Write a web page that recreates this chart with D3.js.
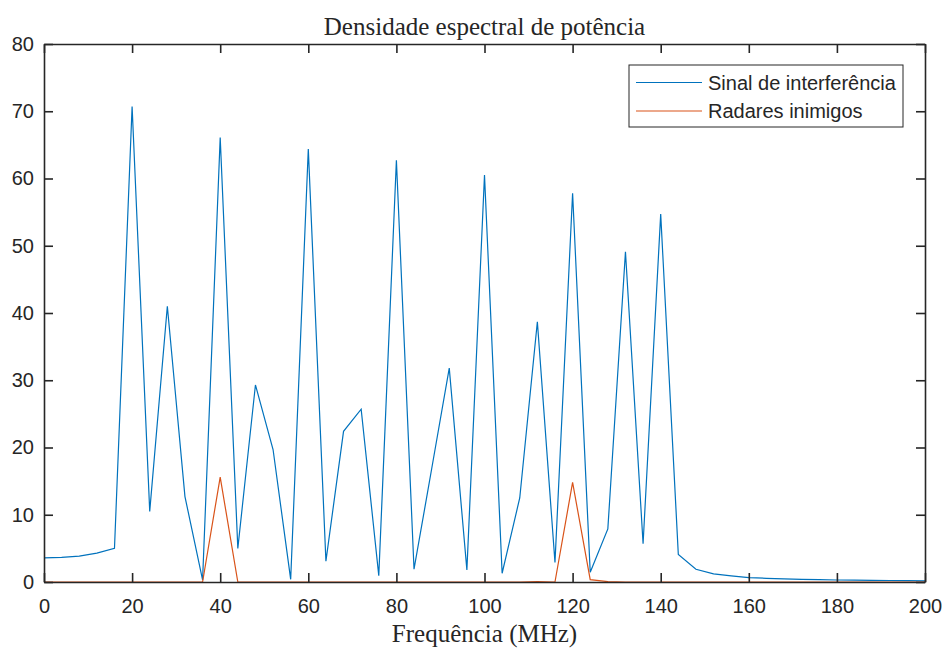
<!DOCTYPE html>
<html>
<head>
<meta charset="utf-8">
<script src="https://cdn.jsdelivr.net/npm/d3@7"></script>
<style>
  html, body { margin: 0; padding: 0; background: #fff; }
  svg text { fill: #262626; }
</style>
</head>
<body>
<svg id="chart" width="943" height="648"></svg>
<script>
/* ── Data ─────────────────────────────── */
const freqs = d3.range(0, 201, 4);   // MHz, 4 MHz bins

const interference = [
  3.6, 3.65, 3.85, 4.3, 5.0, 70.7, 10.5, 41.0, 12.7, 0.3,
  66.1, 5.0, 29.3, 19.7, 0.4, 64.4, 3.1, 22.4, 25.7, 0.95,
  62.7, 1.9, 16.8, 31.8, 1.8, 60.5, 1.3, 12.5, 38.7, 2.9,
  57.8, 1.45, 7.9, 49.1, 5.7, 54.7, 4.1, 1.9, 1.2, 0.9,
  0.65, 0.55, 0.45, 0.4, 0.35, 0.3, 0.27, 0.25, 0.22, 0.2, 0.18
];

const enemyRadars = [
  0, 0, 0, 0, 0, 0, 0, 0, 0, 0,
  15.6, 0, 0, 0, 0, 0, 0, 0, 0, 0,
  0, 0, 0, 0, 0, 0, 0, 0, 0.05, 0,
  14.8, 0.35, 0.05, 0, 0, 0, 0, 0, 0, 0,
  0, 0, 0, 0, 0, 0, 0, 0, 0, 0, 0
];

const seriesNames = ["Sinal de interferência", "Radares inimigos"];
const seriesColors = ["#0072BD", "#D95319"];
const xTicks = [0, 20, 40, 60, 80, 100, 120, 140, 160, 180, 200];
const yTicks = [0, 10, 20, 30, 40, 50, 60, 70, 80];

/* ── Layout ───────────────────────────── */
const svg = d3.select("#chart");
const margin = { left: 44, right: 18, top: 44, bottom: 66 };
const W = 943, H = 648;
const x = d3.scaleLinear().domain([0, 200]).range([margin.left, W - margin.right]);
const y = d3.scaleLinear().domain([0, 80]).range([H - margin.bottom, margin.top]);

const axisColor = "#262626";
const tickLen = 9;
const sans = "'Liberation Sans', Arial, Helvetica, sans-serif";
const serif = "'Liberation Serif', 'Times New Roman', serif";

/* ── Lines ────────────────────────────── */
const line = d3.line().x((d, i) => x(freqs[i])).y(d => y(d));

svg.append("path")
  .attr("d", line(interference))
  .attr("fill", "none")
  .attr("stroke", seriesColors[0])
  .attr("stroke-width", 1.2);

svg.append("path")
  .attr("d", line(enemyRadars))
  .attr("fill", "none")
  .attr("stroke", seriesColors[1])
  .attr("stroke-width", 1.2);

/* ── Axes (box, inward ticks) ─────────── */
function styleAxis(g) {
  g.select(".domain").attr("stroke", axisColor).attr("stroke-width", 1.6);
  g.selectAll(".tick line").attr("stroke", axisColor).attr("stroke-width", 1.6);
  g.selectAll(".tick text")
    .attr("font-family", sans).attr("font-size", 20).attr("fill", axisColor);
}

svg.append("g")
  .attr("transform", `translate(0,${y(0)})`)
  .call(d3.axisBottom(x).tickValues(xTicks).tickSizeInner(-tickLen).tickSizeOuter(0).tickPadding(17))
  .call(styleAxis);

svg.append("g")
  .attr("transform", `translate(0,${y(80)})`)
  .call(d3.axisTop(x).tickValues(xTicks).tickSizeInner(-tickLen).tickSizeOuter(0).tickFormat(""))
  .call(styleAxis);

svg.append("g")
  .attr("transform", `translate(${x(0)},0)`)
  .call(d3.axisLeft(y).tickValues(yTicks).tickSizeInner(-tickLen).tickSizeOuter(0).tickPadding(10))
  .call(styleAxis);

svg.append("g")
  .attr("transform", `translate(${x(200)},0)`)
  .call(d3.axisRight(y).tickValues(yTicks).tickSizeInner(-tickLen).tickSizeOuter(0).tickFormat(""))
  .call(styleAxis);

/* ── Title & labels ───────────────────── */
svg.append("text")
  .attr("x", (x(0) + x(200)) / 2).attr("y", 35)
  .attr("text-anchor", "middle")
  .attr("font-family", serif).attr("font-size", 25)
  .text("Densidade espectral de potência");

svg.append("text")
  .attr("x", (x(0) + x(200)) / 2).attr("y", 642)
  .attr("text-anchor", "middle")
  .attr("font-family", serif).attr("font-size", 25)
  .text("Frequência (MHz)");

/* ── Legend ───────────────────────────── */
const legend = svg.append("g").attr("transform", "translate(629,65)");
legend.append("rect")
  .attr("width", 274).attr("height", 62)
  .attr("fill", "#fff")
  .attr("stroke", axisColor).attr("stroke-width", 1);

seriesNames.forEach((name, i) => {
  const cy = 17.5 + i * 28.5;
  legend.append("line")
    .attr("x1", 7).attr("x2", 73).attr("y1", cy).attr("y2", cy)
    .attr("stroke", seriesColors[i]).attr("stroke-width", 1.2);
  legend.append("text")
    .attr("x", 79).attr("y", cy)
    .attr("dy", "0.35em")
    .attr("font-family", sans).attr("font-size", 20)
    .attr("fill", "#000")
    .text(name);
});
</script>
</body>
</html>
